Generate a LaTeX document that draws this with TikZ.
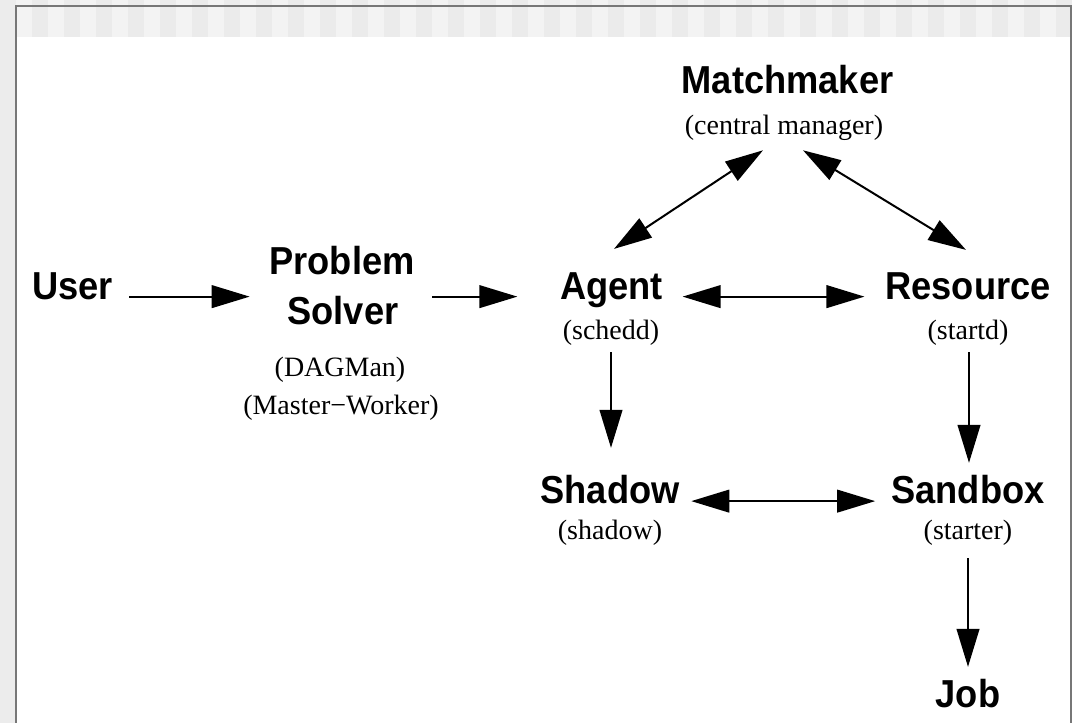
\documentclass[tikz,border=0pt]{standalone}
\usepackage{fontspec}
\usetikzlibrary{arrows.meta,calc}
\newfontfamily\diagsans[FakeStretch=0.93]{Liberation Sans}
\newfontfamily\diagserif{Liberation Serif}
\definecolor{pagegray}{HTML}{ECECEC}
\definecolor{stripelight}{HTML}{F3F3F3}
\definecolor{stripedark}{HTML}{EBEBEB}
\definecolor{framegray}{HTML}{777777}

\begin{document}
\begin{tikzpicture}[x=0.75pt,y=-0.75pt,
  title/.style={font=\diagsans\bfseries\fontsize{29.25}{34}\selectfont, inner sep=0pt, anchor=base},
  note/.style={font=\diagserif\fontsize{21}{25}\selectfont, inner sep=0pt, anchor=base},
  arr/.style={line width=1.5pt, -{Triangle[length=28.5pt,width=17pt]}},
  dblarr/.style={line width=1.5pt, {Triangle[length=28.5pt,width=17pt]}-{Triangle[length=28.5pt,width=17pt]}}]

\useasboundingbox (0,0) rectangle (1072,723);

% page background, striped header band and frame
\fill[pagegray] (0,0) rectangle (1072,723);
\fill[white] (16,37) rectangle (1071,723);
\fill[stripelight] (16,0) rectangle (1072,37);
\foreach \k in {0,...,32}
  \fill[stripedark] ({32+32*\k},0) rectangle ({48+32*\k},37);
\draw[framegray, line width=1.5pt] (15.5,723) -- (15.5,6.5) -- (1071,6.5) -- (1071,723);

% components
\node[title] (matchmaker) at (787.5,94) {Matchmaker};
\node[note] (central) at (784,135) {(central manager)};

\node[title] (user) at (72.5,299.5) {User};

\node[title] (prob) at (342,275) {Problem};
\node[title] (solv) at (343,325) {Solver};
\node[note] (dagman) at (340,377) {(DAGMan)};
\node[note] (mw) at (341,415) {(Master−Worker)};

\node[title] (agent) at (611.5,299.5) {Agent};
\node[note] (schedd) at (611,340) {(schedd)};

\node[title] (resource) at (968,299.5) {Resource};
\node[note] (startd) at (968,340) {(startd)};

\node[title] (shadow) at (610,504) {Shadow};
\node[note] (shadowd) at (610,540) {(shadow)};

\node[title] (sandbox) at (968,504) {Sandbox};
\node[note] (starter) at (968,540) {(starter)};

\node[title] (job) at (968,707) {Job};

% connectors
\draw[arr] ($(user.mid east)+(16.3,0)$) -- ($(prob.west |- user.mid east)+(-19.5,0)$);
\draw[arr] ($(prob.east |- agent.mid west)+(17.5,0)$) -- ($(agent.mid west)+(-42.5,0)$);
\draw[dblarr] ($(agent.mid east)+(19.5,0)$) -- ($(resource.mid west)+(-20.6,0)$);
\draw[arr] ($(schedd.south)+(0,6)$) -- ($(shadow.north)+(1,-27.6)$);
\draw[arr] ($(startd.south)+(1,6)$) -- ($(sandbox.north)+(1,-12.6)$);
\draw[dblarr] ($(shadow.mid east)+(11.5,0)$) -- ($(sandbox.mid west)+(-16,0)$);
\draw[arr] ($(starter.south)+(0,12)$) -- ($(job.north)+(0,-11.6)$);
\draw[dblarr] ($(central.south)+(-21,9)$) -- ($(agent.north)+(2.5,-23.5)$);
\draw[dblarr] ($(central.south)+(19,9)$) -- ($(resource.north)+(-2,-22.5)$);
\end{tikzpicture}
\end{document}
